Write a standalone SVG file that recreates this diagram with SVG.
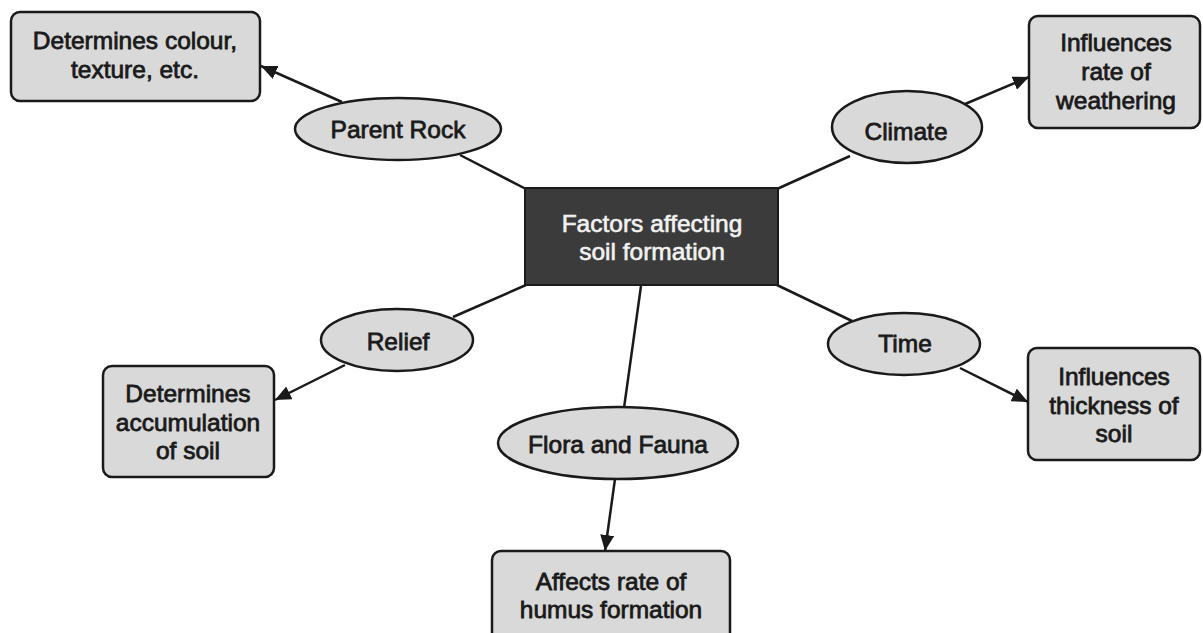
<svg xmlns="http://www.w3.org/2000/svg" width="1203" height="633" viewBox="0 0 1203 633">
<style>
.box{fill:#d9d9d9;stroke:#1a1a1a;stroke-width:2.5}
.ell{fill:#d9d9d9;stroke:#1a1a1a;stroke-width:2.5}
.core{fill:#3b3b3b;stroke:#1a1a1a;stroke-width:2}
.t{font-family:"Liberation Sans",Arial,sans-serif;font-size:24.5px;fill:#1a1a1a;stroke:#1a1a1a;stroke-width:0.8;text-anchor:middle}
.tw{font-family:"Liberation Sans",Arial,sans-serif;font-size:24.5px;fill:#f2f2f2;stroke:#f2f2f2;stroke-width:0.6;text-anchor:middle}
.ln{stroke:#1a1a1a;stroke-width:2.5;fill:none}
.ar{stroke:#1a1a1a;stroke-width:2.5;fill:none;marker-end:url(#ah)}
</style>
<defs>
<marker id="ah" markerUnits="userSpaceOnUse" markerWidth="18" markerHeight="14" refX="16" refY="7" orient="auto">
<path d="M0,0 L16,7 L0,14 Z" fill="#1a1a1a"/>
</marker>
</defs>
<rect width="1203" height="633" fill="#ffffff"/>
<g id="connectors">
<line class="ln" x1="460" y1="155" x2="526" y2="189"/>
<line class="ln" x1="850" y1="156" x2="777" y2="189"/>
<line class="ln" x1="453" y1="317" x2="526" y2="285"/>
<line class="ln" x1="777" y1="285" x2="852" y2="321"/>
<line class="ln" x1="641" y1="286" x2="624" y2="408"/>
<line class="ar" x1="342" y1="102" x2="261" y2="66"/>
<line class="ar" x1="958" y1="107" x2="1029" y2="77"/>
<line class="ar" x1="345" y1="365" x2="275" y2="400"/>
<line class="ar" x1="960" y1="368" x2="1028" y2="402"/>
<line class="ar" x1="615" y1="479" x2="605" y2="551"/>
</g>
<g id="center">
<rect class="core" x="525" y="188" width="253" height="97"/>
<text class="tw" x="652" y="232">Factors affecting</text>
<text class="tw" x="652" y="260">soil formation</text>
</g>
<g id="parent-rock">
<ellipse class="ell" cx="398" cy="129" rx="103" ry="31"/>
<text class="t" x="398" y="138">Parent Rock</text>
</g>
<g id="climate">
<ellipse class="ell" cx="907" cy="127" rx="75" ry="36"/>
<text class="t" x="906" y="140">Climate</text>
</g>
<g id="relief">
<ellipse class="ell" cx="397" cy="340" rx="76" ry="31"/>
<text class="t" x="398" y="350">Relief</text>
</g>
<g id="time">
<ellipse class="ell" cx="904" cy="344" rx="76" ry="31"/>
<text class="t" x="905" y="352">Time</text>
</g>
<g id="flora-fauna">
<ellipse class="ell" cx="618" cy="443" rx="120" ry="36"/>
<text class="t" x="618" y="453">Flora and Fauna</text>
</g>
<g id="box-colour">
<rect class="box" x="11" y="12" width="249" height="89" rx="9"/>
<text class="t" x="135" y="49">Determines colour,</text>
<text class="t" x="135" y="78">texture, etc.</text>
</g>
<g id="box-weathering">
<rect class="box" x="1029" y="16" width="171" height="112" rx="9"/>
<text class="t" x="1116" y="51">Influences</text>
<text class="t" x="1116" y="80">rate of</text>
<text class="t" x="1116" y="109">weathering</text>
</g>
<g id="box-accumulation">
<rect class="box" x="103" y="366" width="171" height="111" rx="9"/>
<text class="t" x="188" y="402">Determines</text>
<text class="t" x="188" y="431">accumulation</text>
<text class="t" x="188" y="459">of soil</text>
</g>
<g id="box-thickness">
<rect class="box" x="1028" y="348" width="172" height="112" rx="9"/>
<text class="t" x="1114" y="385">Influences</text>
<text class="t" x="1114" y="414">thickness of</text>
<text class="t" x="1114" y="442">soil</text>
</g>
<g id="box-humus">
<rect class="box" x="492" y="551" width="238" height="95" rx="9"/>
<text class="t" x="611" y="590">Affects rate of</text>
<text class="t" x="611" y="618">humus formation</text>
</g>
</svg>
